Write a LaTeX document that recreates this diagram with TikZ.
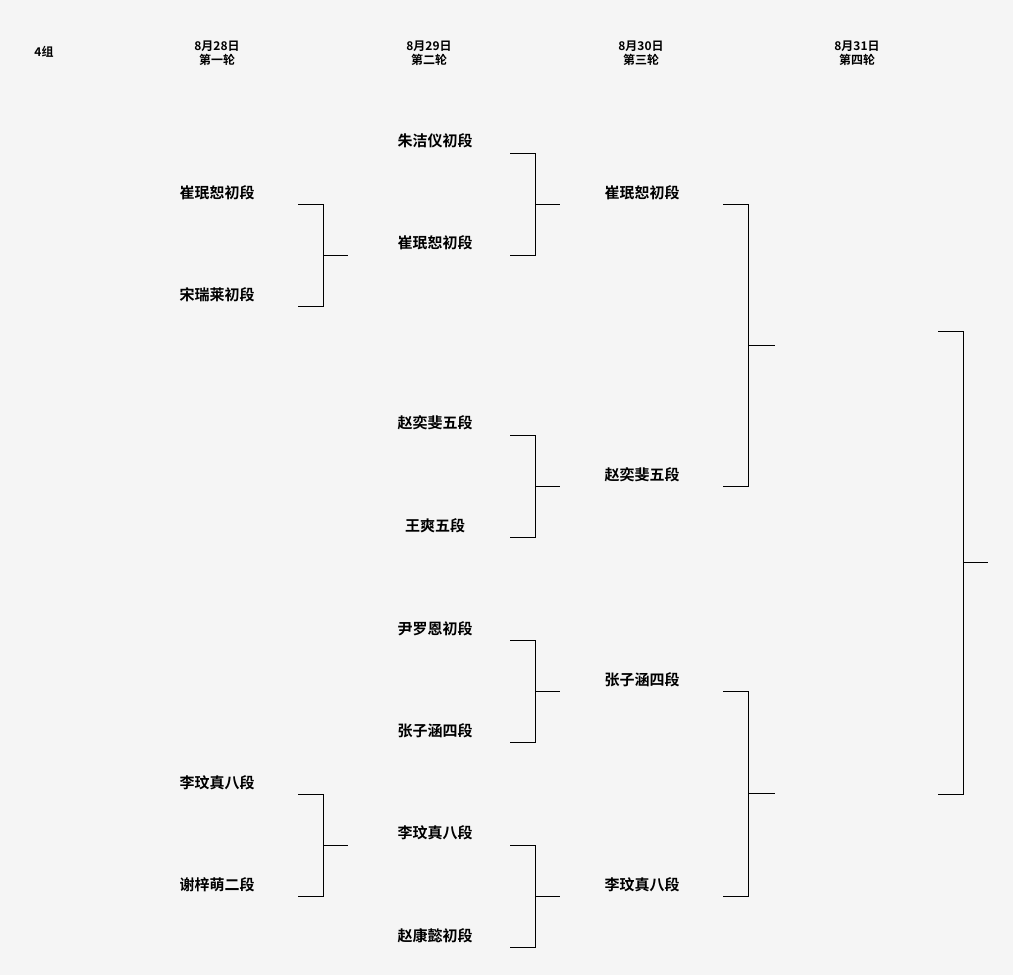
\documentclass[tikz,border=0pt]{standalone}
\usepackage{fontspec}
\setmainfont{Noto Sans CJK SC}[BoldFont={* Bold}]
\begin{document}
\begin{tikzpicture}[x=1pt,y=-1pt,
  nm/.style={font=\fontsize{15}{15}\selectfont\bfseries,inner sep=0pt},
  hd/.style={font=\fontsize{12}{14}\selectfont\bfseries,inner sep=0pt,align=center},
  ln/.style={line width=1pt}]
\fill[gray!8] (0,0) rectangle (1013,975);
\useasboundingbox (0,0) rectangle (1013,975);
\node[hd] (g) at (44,52) {4组};
\node[hd] (h1) at (217,53) {8月28日\\第一轮};
\node[hd] (h2) at (429,53) {8月29日\\第二轮};
\node[hd] (h3) at (641,53) {8月30日\\第三轮};
\node[hd] (h4) at (857,53) {8月31日\\第四轮};
% round 1
\node[nm] (a1) at (217,193) {崔珉恕初段};
\node[nm] (a2) at (217,295) {宋瑞莱初段};
\node[nm] (a3) at (217,783) {李玟真八段};
\node[nm] (a4) at (217,885) {谢梓萌二段};
% round 2
\node[nm] (b1) at (435,141) {朱洁仪初段};
\node[nm] (b2) at (435,243) {崔珉恕初段};
\node[nm] (b3) at (435,423) {赵奕斐五段};
\node[nm] (b4) at (435,526) {王爽五段};
\node[nm] (b5) at (435,629) {尹罗恩初段};
\node[nm] (b6) at (435,731) {张子涵四段};
\node[nm] (b7) at (435,833) {李玟真八段};
\node[nm] (b8) at (435,936) {赵康懿初段};
% round 3
\node[nm] (c1) at (642,193) {崔珉恕初段};
\node[nm] (c2) at (642,475) {赵奕斐五段};
\node[nm] (c3) at (642,680) {张子涵四段};
\node[nm] (c4) at (642,885) {李玟真八段};
% brackets
\foreach \xa/\xb/\xc/\ya/\yb in {298/323/348/204/306, 298/323/348/794/896,
  510/535/560/153/255, 510/535/560/435/537, 510/535/560/640/742, 510/535/560/845/947,
  723/748/775/204/486, 723/748/775/691/896, 938/963/988/331/794}{
  \draw[ln] (\xa,\ya) -- (\xb,\ya) -- (\xb,\yb) -- (\xa,\yb);
  \draw[ln] (\xb,{(\ya+\yb)/2}) -- (\xc,{(\ya+\yb)/2});
}
\end{tikzpicture}
\end{document}
